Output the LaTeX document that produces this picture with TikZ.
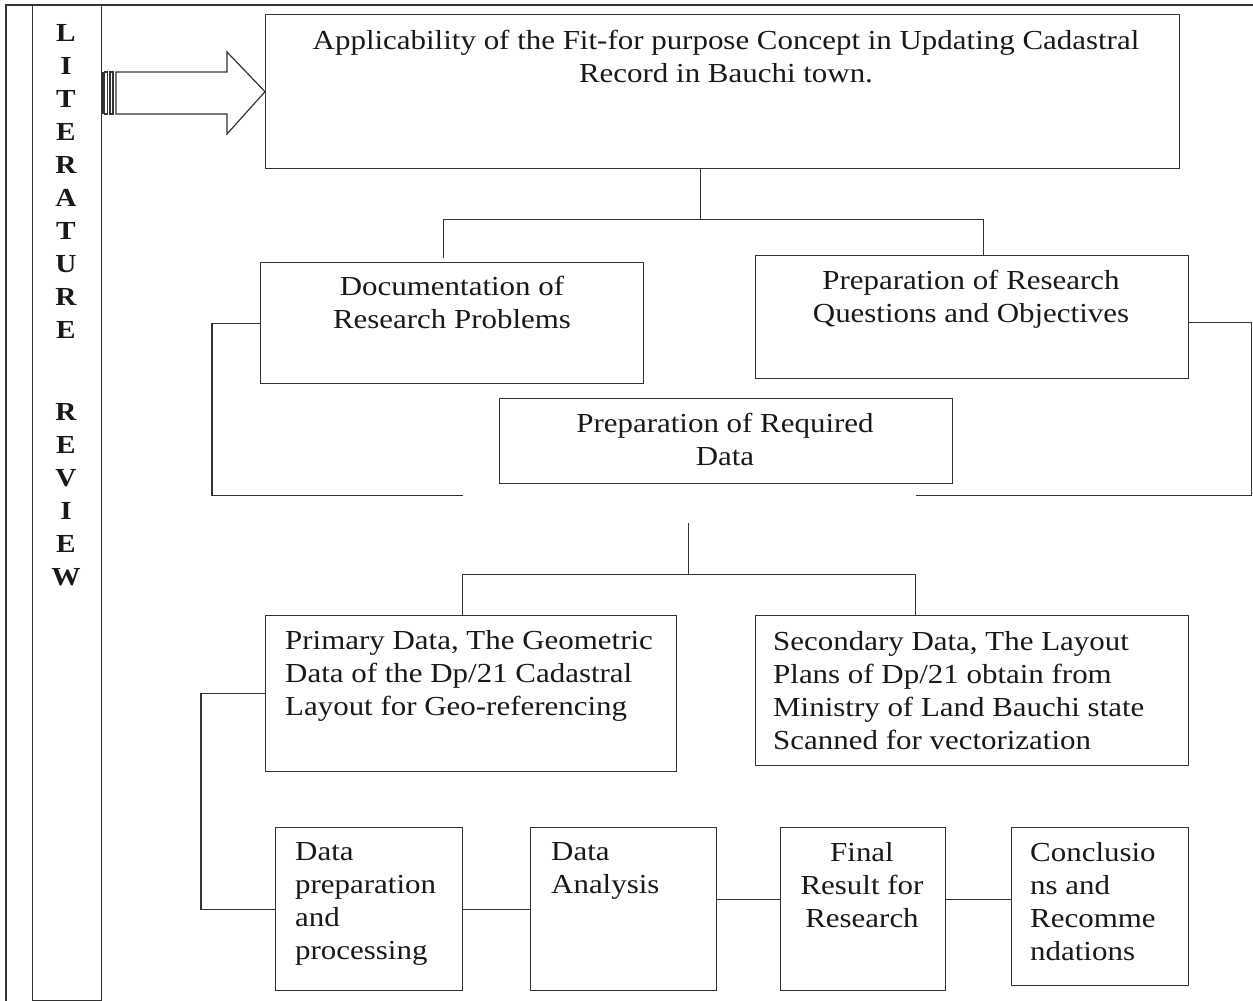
\documentclass[tikz,border=0pt]{standalone}
\usepackage{fontspec}
\setmainfont{Liberation Serif}[FakeStretch=1.125]
\begin{document}
\begin{tikzpicture}[x=1pt,y=-1pt,
  ln/.style={draw=black!80,line width=1.4pt},
  box/.style={ln,rectangle,inner sep=0pt,anchor=north west},
  txt/.style={inner sep=0pt,text=black!90,font=\fontsize{27.5}{33}\selectfont},
  ]
\useasboundingbox (0,0) rectangle (1253,1001);

% outer frame (top and left edges only)
\draw[ln] (1253,5) -- (6,5) -- (6,1001);

% boxes
\node[box,minimum width=69pt,minimum height=995pt]  (lit)  at (32,5)    {};
\node[box,minimum width=914pt,minimum height=154pt] (top)  at (265,14)  {};
\node[box,minimum width=383pt,minimum height=121pt] (doc)  at (260,262) {};
\node[box,minimum width=433pt,minimum height=123pt] (rq)   at (755,255) {};
\node[box,minimum width=453pt,minimum height=85pt]  (req)  at (499,398) {};
\node[box,minimum width=411pt,minimum height=156pt] (prim) at (265,615) {};
\node[box,minimum width=433pt,minimum height=150pt] (sec)  at (755,615) {};
\node[box,minimum width=187pt,minimum height=163pt] (dp)   at (275,827) {};
\node[box,minimum width=186pt,minimum height=163pt] (da)   at (530,827) {};
\node[box,minimum width=165pt,minimum height=163pt] (fr)   at (780,827) {};
\node[box,minimum width=177pt,minimum height=158pt] (cr)   at (1011,827) {};

% vertical caption
\node[txt,anchor=north,align=center,font=\fontsize{26}{33}\selectfont\bfseries] (littxt) at (66,24)
  {L\\I\\T\\E\\R\\A\\T\\U\\R\\E\\[49pt]R\\E\\V\\I\\E\\W};

% box texts
\node[txt,anchor=north,align=center] (ttop) at (726,30)
  {Applicability of the Fit-for purpose Concept in Updating Cadastral\\Record in Bauchi town.};
\node[txt,anchor=north,align=center] (tdoc) at (452,276) {Documentation of\\Research Problems};
\node[txt,anchor=north,align=center] (trq) at (971,270) {Preparation of Research\\Questions and Objectives};
\node[txt,anchor=north,align=center] (treq) at (725,413) {Preparation of Required\\Data};
\node[txt,anchor=north west,align=left] (tprim) at (285,630)
  {Primary Data, The Geometric\\Data of the Dp/21 Cadastral\\Layout for Geo-referencing};
\node[txt,anchor=north west,align=left] (tsec) at (773,631)
  {Secondary Data, The Layout\\Plans of Dp/21 obtain from\\Ministry of Land Bauchi state\\Scanned for vectorization};
\node[txt,anchor=north west,align=left] (tdp) at (295,842) {Data\\preparation\\and\\processing};
\node[txt,anchor=north west,align=left] (tda) at (551,842) {Data\\Analysis};
\node[txt,anchor=north,align=center] (tfr) at (862,842) {Final\\Result for\\Research};
\node[txt,anchor=north west,align=left] (tcr) at (1030,842) {Conclusio\\ns and\\Recomme\\ndations};

% striped block arrow from the side column into the title box
\fill[black!80] (101,72) rectangle (104.5,114);
\draw[draw=black!80,line width=1.2pt] (104.5,72) rectangle (107.5,114);
\draw[draw=black!80,line width=1.2pt] (110,72) rectangle (113,114);
\draw[draw=black!80,line width=1.2pt,line join=miter]
  (116,72) -- (227,72) -- (227,52) -- (top.west) -- (227,134) -- (227,114) -- (116,114) -- cycle;

% title to first-level boxes
\draw[ln] ([xshift=-22pt]top.south) -- ++(0,50) coordinate (a1);
\draw[ln] ([shift={(-8.5,-4)}]doc.north) |- (a1) -| ([xshift=11.5pt]rq.north);

% brackets round the required-data box
\draw[ln] (doc.west) -- ++(-48,0) |- ([shift={(-263,11)}]req.south);
\draw[ln] ([yshift=-5.5pt]rq.east) -- ++(62,0) |- ([shift={(190,11)}]req.south);

% required data to primary and secondary data
\draw[ln] ([shift={(-37.5,39)}]req.south) -- ++(0,51) coordinate (a2);
\draw[ln] ([xshift=-8.5pt]prim.north) |- (a2) -| ([xshift=-56.5pt]sec.north);

% primary data down to processing chain
\draw[ln] (prim.west) -- ++(-64,0) |- (dp.west);
\draw[ln] (dp.east) -- (da.west);
\draw[ln] ([yshift=10pt]da.east) -- ([yshift=10pt]fr.west);
\draw[ln] ([yshift=10pt]fr.east) coordinate (b1) -- (b1 -| cr.west);
\end{tikzpicture}
\end{document}
